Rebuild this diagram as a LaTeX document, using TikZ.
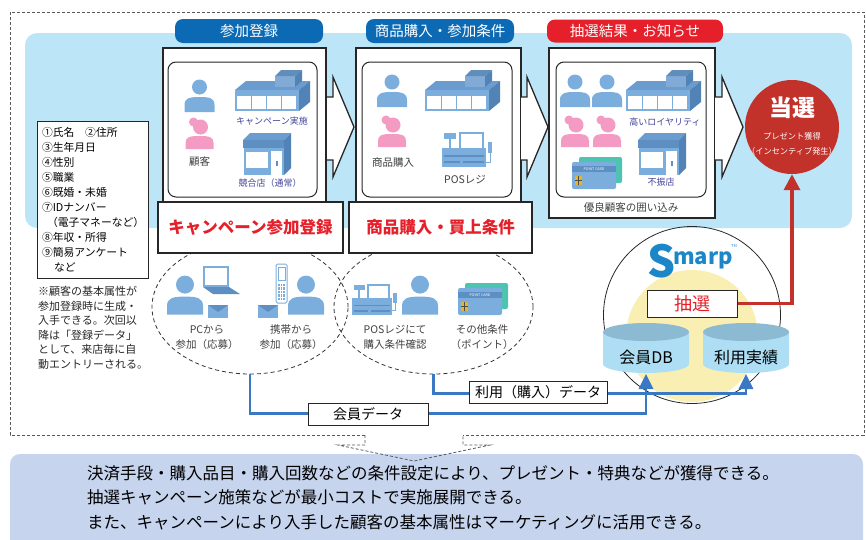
\documentclass[tikz,border=0pt]{standalone}
\usepackage{fontspec}
\setmainfont{Noto Sans CJK JP}
\usepackage{tikz}
\usetikzlibrary{positioning,shapes.geometric,arrows.meta}

\definecolor{bandblue}{HTML}{BDE5F8}
\definecolor{tabblue}{HTML}{0B6AB3}
\definecolor{tabred}{HTML}{E5202A}
\definecolor{iconblue}{HTML}{7BAEDD}
\definecolor{icondark}{HTML}{5E8FC2}
\definecolor{storeroof}{HTML}{6B9CCF}
\definecolor{storeside}{HTML}{5283B6}
\definecolor{iconpink}{HTML}{F39BC3}
\definecolor{navytext}{HTML}{43449C}
\definecolor{winred}{HTML}{C3312B}
\definecolor{linkblue}{HTML}{3A78C3}
\definecolor{dbtop}{HTML}{8CBAD2}
\definecolor{dbbody}{HTML}{ADDEF3}
\definecolor{paleyellow}{HTML}{FAEFB3}
\definecolor{notebg}{HTML}{C6D4EE}
\definecolor{cardteal}{HTML}{4DC3B2}
\definecolor{chipgold}{HTML}{E9B526}
\definecolor{logoblue}{HTML}{1B87C9}

\begin{document}
\begin{tikzpicture}[
        x=1pt, y=-1pt,
        % define styles
        frame/.style={
            draw=black!65,
            line width=0.8pt,
            dash pattern=on 3pt off 2pt
        },
        tab/.style={
            rounded corners=8pt,
            text=white,
            minimum height=24pt,
            inner sep=0pt,
            font=\fontsize{14.5}{16}\selectfont
        },
        panel/.style={
            draw=black!85,
            line width=1.3pt,
            fill=white,
            inner sep=0pt
        },
        inbox/.style={
            draw=black!85,
            line width=1pt,
            rounded corners=8pt,
            minimum height=135pt,
            inner sep=0pt
        },
        bigarrow/.style={
            draw=black!85,
            fill=white,
            line width=1.3pt,
            line join=miter
        },
        result/.style={
            draw=black!85,
            line width=1.8pt,
            fill=white,
            text=tabred,
            minimum height=51pt,
            inner sep=0pt,
            font=\fontsize{16.5}{18}\selectfont\bfseries
        },
        caption/.style={
            inner sep=0pt,
            align=center,
            text=black!75,
            font=\fontsize{10.5}{15}\selectfont
        },
        shop/.style={
            inner sep=0pt,
            text=navytext,
            font=\fontsize{9}{11}\selectfont
        },
        zone/.style={
            ellipse,
            draw=black!80,
            line width=0.8pt,
            dash pattern=on 4pt off 3pt,
            inner sep=0pt
        },
        datatag/.style={
            draw=black!85,
            line width=1pt,
            fill=white,
            inner sep=0pt,
            minimum height=22pt,
            font=\fontsize{14}{16}\selectfont
        },
        link/.style={
            linkblue,
            line width=2.8pt,
            -{Triangle[width=14pt,length=15pt]}
        },
        hit/.style={
            winred,
            line width=3.5pt,
            -{Triangle[width=16pt,length=16pt]}
        },
        % icons
        man/.pic={
            \fill[iconblue] (0,8) circle (7.5);
            \fill[iconblue] (-15,33) -- (-15,26) .. controls (-15,19) and (-10,18) .. (0,18)
                .. controls (10,18) and (15,19) .. (15,26) -- (15,33) -- cycle;
        },
        woman/.pic={
            \fill[iconpink] (1,9) circle (7.5);
            \fill[iconpink] (-6,4) circle (4.5);
            \fill[iconpink] (-14,31) -- (-14,25) .. controls (-14,19) and (-10,18) .. (0,18)
                .. controls (10,18) and (14,19) .. (14,25) -- (14,31) -- cycle;
        },
        bigstore/.pic={
            \fill[storeroof] (0,22) -- (11,13) -- (75,13) -- (64,22) -- cycle;
            \fill[storeside] (64,22) -- (75,13) -- (75,34) -- (64,43) -- cycle;
            \fill[iconblue] (0,22) rectangle (64,43);
            \foreach \wx in {2,17,32,47}
                \fill[white] (\wx,28) rectangle ++(14,13);
            % block on the roof
            \fill[storeroof!85!white] (40,8) rectangle (60,19);
            \fill[storeroof!90!black] (40,8) -- (46,2) -- (67,2) -- (60,8) -- cycle;
            \fill[storeside] (60,8) -- (67,2) -- (67,13) -- (60,19) -- cycle;
        },
        smallstore/.pic={
            \fill[storeroof] (0,8) -- (7,1) -- (48,1) -- (41,8) -- cycle;
            \fill[storeside] (41,8) -- (48,1) -- (48,36) -- (41,43) -- cycle;
            \fill[icondark] (0,8) rectangle (41,16);
            \fill[iconblue] (1,16) rectangle (41,43);
            \fill[white] (3,20) rectangle (25,36);
            \fill[white] (28,19) rectangle (39,43);
            \fill[icondark] (33,29) rectangle (35,34);
        },
        register/.pic={
            \fill[iconblue] (2,2) rectangle (14,8);
            \fill[iconblue] (7,8) rectangle (9,17);
            \draw[iconblue, line width=2pt, fill=white] (18,2) rectangle (41,18);
            \fill[iconblue] (0,17) rectangle (44,36);
            \fill[icondark] (2,24) rectangle (42,26);
            \fill[icondark] (2,30) rectangle (18,32);
            \fill[icondark] (21,30) rectangle (42,32);
            \fill[iconblue] (46,11) rectangle (50,22);
            \draw[iconblue, line width=1pt] (48,22) -- (48,31) -- (44,31);
        },
        card/.pic={
            \fill[cardteal, rounded corners=2pt] (7,0) rectangle (50,26);
            \fill[iconblue, rounded corners=2pt] (0,5) rectangle (44,32);
            \fill[icondark] (0,9) rectangle (44,15);
            \node[inner sep=0pt, text=white, font=\fontsize{3.6}{4}\selectfont] (-label) at (22,12) {POINT CARD};
            \fill[chipgold, rounded corners=1pt] (3,19) rectangle (10,28);
            \draw[black!70, line width=0.4pt] (3,23.5) -- (10,23.5) (6.5,19) -- (6.5,28);
        },
        laptop/.pic={
            \draw[iconblue, line width=2pt, fill=white] (1,1) rectangle (25,20);
            \fill[icondark] (0,21) -- (26,21) -- (37,28) -- (10,28) -- cycle;
        },
        phone/.pic={
            \draw[iconblue, line width=1pt, fill=white, rounded corners=1.5pt] (0,0) rectangle (11,39);
            \draw[iconblue, line width=0.8pt] (2,3) rectangle (9,16);
            \foreach \r in {0,...,4}
                \foreach \c in {0,1,2}
                    \fill[iconblue] (2+\c*2.6,19.5+\r*3.6) rectangle ++(1.8,2.4);
        },
        envelope/.pic={
            \fill[iconblue] (0,0) rectangle (20,13);
            \fill[icondark] (0,0) -- (10,7) -- (20,0) -- cycle;
        },
        db/.pic={
            \fill[dbbody] (-43,0) -- (-43,32) arc[start angle=180, end angle=0, x radius=43, y radius=9] -- (43,0) -- cycle;
            \fill[dbtop] (0,0) ellipse[x radius=43, y radius=9];
        }
    ]
    \useasboundingbox (0,0) rectangle (866,539);

    % light blue band behind the three steps
    \fill[bandblue, rounded corners=12pt] (25,33) rectangle (852,228);

    % dashed frame, open where the arrow leaves it
    \draw[frame] (365,435) -- (10,435) -- (10,12) -- (864,12) -- (864,435) -- (463,435);

    % summary at the bottom
    \fill[notebg, rounded corners=10pt] (10,548) -- (10,454) -- (863,454) -- (863,548);
    \draw[frame] (365,435) -- (365,445) -- (338,445) -- (414,461) -- (490,445) -- (463,445) -- (463,435);
    \node[anchor=west, inner sep=0pt, align=left, font=\fontsize{16.5}{24.5}\selectfont] (summary) at (87,497.5)
        {決済手段・購入品目・購入回数などの条件設定により、プレゼント・特典などが獲得できる。\\
         抽選キャンペーン施策などが最小コストで実施展開できる。\\
         また、キャンペーンにより入手した顧客の基本属性はマーケティングに活用できる。};

    % customer attributes
    \node[anchor=north west, draw=black!85, line width=1pt, fill=white, align=left,
          minimum width=111pt, minimum height=157pt, inner xsep=4.5pt, inner ysep=5pt,
          font=\fontsize{10.8}{15}\selectfont] (attrs) at (37,121)
        {①氏名　②住所\\③生年月日\\④性別\\⑤職業\\⑥既婚・未婚\\⑦IDナンバー\\
         \hspace{5pt}（電子マネーなど）\\⑧年収・所得\\⑨簡易アンケート\\\hspace{12pt}など};
    \node[anchor=north west, inner sep=0pt, align=left, text=black!85,
          font=\fontsize{11}{14.6}\selectfont] (memo) at (38,286)
        {※顧客の基本属性が\\参加登録時に生成・\\入手できる。次回以\\降は「登録データ」\\として、来店毎に自\\動エントリーされる。};

    % entry and purchase zones
    \node[zone, minimum width=196pt, minimum height=134pt] (ell1) at (250,307) {};
    \node[zone, minimum width=199pt, minimum height=134pt] (ell2) at (433.5,307) {};

    % step panels
    \node[panel, minimum width=163pt, minimum height=154pt] (p1) at (244.5,125) {};
    \node[panel, minimum width=165pt, minimum height=154pt] (p2) at (438.5,125) {};
    \node[panel, minimum width=166pt, minimum height=170pt] (p3) at (632,133) {};
    \node[inbox, minimum width=149pt] (p1in) at (242.5,129.5) {};
    \node[inbox, minimum width=150pt] (p2in) at (437,129.5) {};
    \node[inbox, minimum width=150pt] (p3in) at (631,129.5) {};

    \node[tab, fill=tabblue, minimum width=148pt] (t1) at (249,31) {参加登録};
    \node[tab, fill=tabblue, minimum width=148pt] (t2) at (440,31) {商品購入・参加条件};
    \node[tab, fill=tabred, minimum width=176pt, minimum height=23pt] (t3) at (635,31) {抽選結果・お知らせ};

    %arrows between the panels
    \foreach \b/\h/\t in {327/333/354, 521/527/548, 715/722/743}
        \filldraw[bigarrow] (\b,97) -- (\h,97) -- (\h,77) -- (\t,127) -- (\h,177) -- (\h,160) -- (\b,160);

    \node[result, minimum width=185pt] (r1) at (250.5,227.5) {キャンペーン参加登録};
    \node[result, minimum width=183pt] (r2) at (440.5,227.5) {商品購入・買上条件};

    % panel 1
    \pic at (199.5,79) {man};
    \pic at (199.5,118) {woman};
    \node[caption] (cust) at (199.5,162) {顧客};
    \pic at (235,68) {bigstore};
    \node[shop] (camp) at (272,121) {キャンペーン実施};
    \pic at (243,132) {smallstore};
    \node[shop] (rival) at (270,183) {競合店（通常）};

    % panel 2
    \pic at (392,74) {man};
    \pic at (392,116) {woman};
    \node[caption] (buy) at (393,163) {商品購入};
    \pic at (425,68) {bigstore};
    \pic at (442,131) {register};
    \node[caption] (posr) at (465,180) {POSレジ};

    % panel 3
    \foreach \px in {575,607} {
        \pic at (\px,74) {man};
        \pic at (\px,116) {woman};
    }
    \pic at (572,157) {card};
    \pic at (626,68) {bigstore};
    \node[shop] (loyal) at (665,122) {高いロイヤリティ};
    \pic at (638,132) {smallstore};
    \node[shop] (weak) at (661,182) {不振店};
    \node[caption] (keep) at (631,208) {優良顧客の囲い込み};

    % entry zone
    \pic[scale=1.2] at (185,275) {man};
    \pic at (203,266) {laptop};
    \pic at (208,305) {envelope};
    \pic at (276,264) {phone};
    \pic at (258,305) {envelope};
    \pic[scale=1.2] at (306,275) {man};
    \node[caption] (pcin) at (207,337.5) {PCから\\参加（応募）};
    \node[caption] (mbin) at (291,337.5) {携帯から\\参加（応募）};

    % purchase zone
    \pic[scale=0.9] at (352,283) {register};
    \pic[scale=1.2] at (420,275) {man};
    \pic at (458,283) {card};
    \node[caption] (posin) at (395,337.5) {POSレジにて\\購入条件確認};
    \node[caption] (other) at (482,337.5) {その他条件\\（ポイント）};

    % winner
    \node[circle, fill=winred, minimum size=94pt, inner sep=0pt] (win) at (792,127) {};
    \node[text=white, inner sep=0pt, font=\fontsize{23}{24}\selectfont\bfseries] (winT) at (792,108) {当選};
    \node[text=white, inner sep=0pt, align=center, font=\fontsize{8.2}{15}\selectfont] (winS) at (792,143.5)
        {プレゼント獲得\\（インセンティブ発生）};

    % platform
    \node[circle, draw=black!85, line width=0.8pt, minimum size=177pt, inner sep=0pt] (smarp) at (692,315) {};
    \fill[paleyellow] (692,336) circle (66);
    \node[text=logoblue, inner sep=0pt, font=\fontsize{44}{44}\selectfont\bfseries] (logoS) at (662,261) {S};
    \node[text=logoblue, inner sep=0pt, font=\fontsize{22}{22}\selectfont\bfseries] (logoM) at (703,260) {marp};
    \node[text=logoblue, inner sep=0pt, font=\fontsize{4}{4}\selectfont] (logoTM) at (734,246) {TM};
    \node[draw=black!85, line width=1pt, fill=white, text=tabred, inner sep=0pt,
          minimum width=90pt, minimum height=27pt, font=\fontsize{18}{20}\selectfont] (lottery) at (692,303.5) {抽選};

    \pic at (646,332) {db};
    \pic at (746,332) {db};
    \node[inner sep=0pt, font=\fontsize{16}{18}\selectfont] (db1) at (646,357) {会員DB};
    \node[inner sep=0pt, font=\fontsize{16}{18}\selectfont] (db2) at (746,357) {利用実績};
    \coordinate (db1bot) at (646,374);
    \coordinate (db2bot) at (746,374);

    %lines from the zones to the databases
    \draw[link] (ell1.south) -- ++(0,39) -| (db1bot);
    \draw[link] (ell2.south) -- ++(0,19) -| (db2bot);
    \node[datatag, minimum width=120pt] (memberdata) at (368,414) {会員データ};
    \node[datatag, minimum width=138pt] (usedata) at (538,392) {利用（購入）データ};

    %line from the lottery to the winner
    \draw[hit] (lottery.east) -| (win.south);

\end{tikzpicture}
\end{document}
